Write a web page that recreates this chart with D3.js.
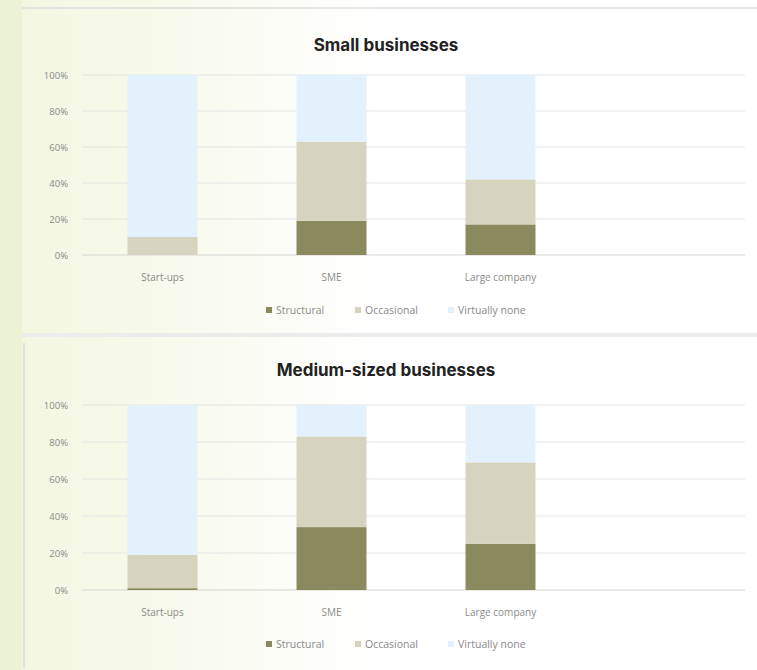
<!DOCTYPE html>
<html>
<head>
<meta charset="utf-8">
<script src="https://cdn.jsdelivr.net/npm/d3@7"></script>
<style>
  html, body { margin: 0; padding: 0; background: #ffffff; }
  svg { display: block; }
</style>
</head>
<body>
<svg id="chart" width="757" height="670"></svg>
<script>
// Company types along the x axis (the fourth slot is an unused, unlabeled category)
const categories = ["Start-ups", "SME", "Large company", ""];
const seriesNames = ["Structural", "Occasional", "Virtually none"];
const yTicks = [0, 0.2, 0.4, 0.6, 0.8, 1.0];

// Shares per company type, small businesses
const smallStructural = [0.00, 0.19, 0.17];
const smallOccasional = [0.10, 0.44, 0.25];
const smallNone       = [0.90, 0.37, 0.58];

// Shares per company type, medium-sized businesses
const mediumStructural = [0.01, 0.34, 0.25];
const mediumOccasional = [0.18, 0.49, 0.44];
const mediumNone       = [0.81, 0.17, 0.31];

const colors = ["#8b8a5e", "#d6d4bf", "#e2f1fc"];

const svg = d3.select("#chart");

// Page background: soft green wash fading to white
const defs = svg.append("defs");
const grad = defs.append("linearGradient").attr("id", "wash")
  .attr("x1", "0%").attr("x2", "100%").attr("y1", "0%").attr("y2", "0%");
grad.append("stop").attr("offset", "0%").attr("stop-color", "#f2f6de");
grad.append("stop").attr("offset", "50%").attr("stop-color", "#ffffff");
grad.append("stop").attr("offset", "100%").attr("stop-color", "#ffffff");

svg.append("rect").attr("width", 757).attr("height", 670).attr("fill", "url(#wash)");
svg.append("rect").attr("x", 0).attr("y", 0).attr("width", 22).attr("height", 670).attr("fill", "#ecf2d4");

// Panel frames
svg.append("line").attr("x1", 22).attr("x2", 757).attr("y1", 8).attr("y2", 8)
  .attr("stroke", "#dcdcdc").attr("stroke-width", 1.5);
svg.append("rect").attr("x", 22).attr("y", 333).attr("width", 735).attr("height", 4).attr("fill", "#ececec");
svg.append("line").attr("x1", 24).attr("x2", 24).attr("y1", 343).attr("y2", 668)
  .attr("stroke", "#dadada").attr("stroke-width", 1.5);

function drawPanel(opts) {
  const { title, titleY, yTop, yBottom, structural, occasional, none, labelY, legendY } = opts;
  const g = svg.append("g");

  const x = d3.scaleBand().domain(categories).range([78, 754]).paddingInner(0.586).paddingOuter(0.293);
  const y = d3.scaleLinear().domain([0, 1]).range([yBottom, yTop]);

  g.append("text").attr("x", 386).attr("y", titleY)
    .attr("text-anchor", "middle")
    .attr("font-family", "Inter, Roboto, sans-serif").attr("font-weight", 700)
    .attr("font-size", 17).attr("fill", "#222")
    .text(title);

  // Y tick labels
  const yAxis = d3.axisLeft(y).tickValues(yTicks).tickFormat(d3.format(".0%")).tickSize(0).tickPadding(0);
  const ax = g.append("g").attr("transform", "translate(68,0)").call(yAxis);
  ax.select(".domain").remove();
  ax.selectAll("text").attr("font-family", "'Open Sans', sans-serif").attr("font-size", 9.5).attr("fill", "#8a8a8a");

  // Gridlines
  g.append("g").selectAll("line").data(yTicks).join("line")
    .attr("x1", 82).attr("x2", 745)
    .attr("y1", d => y(d)).attr("y2", d => y(d))
    .attr("stroke", d => d === 0 ? "#d4d4d4" : "#e4e4e4").attr("stroke-width", 1);

  // Stacked bars
  const rows = categories.slice(0, 3).map((c, i) => ({
    cat: c, Structural: structural[i], Occasional: occasional[i], "Virtually none": none[i]
  }));
  const stacked = d3.stack().keys(seriesNames)(rows);
  g.append("g").selectAll("g").data(stacked).join("g")
    .attr("fill", (d, i) => colors[i])
    .selectAll("rect").data(d => d).join("rect")
    .attr("x", d => x(d.data.cat))
    .attr("width", x.bandwidth())
    .attr("y", d => y(d[1]))
    .attr("height", d => Math.max(0, y(d[0]) - y(d[1])));

  // Category labels
  const xAxis = d3.axisBottom(x).tickSize(0).tickPadding(0);
  const xa = g.append("g").attr("transform", `translate(0,${labelY})`).call(xAxis);
  xa.select(".domain").remove();
  xa.selectAll("text").attr("font-family", "'Open Sans', sans-serif").attr("font-size", 10).attr("fill", "#8a8a8a");

  // Legend
  const legendX = [266, 355, 448];
  const lg = g.append("g").selectAll("g").data(seriesNames).join("g")
    .attr("transform", (d, i) => `translate(${legendX[i]},${legendY})`);
  lg.append("rect").attr("x", 0).attr("y", -7).attr("width", 6).attr("height", 6)
    .attr("fill", (d, i) => colors[i]);
  lg.append("text").attr("x", 10).attr("y", 0)
    .attr("font-family", "'Open Sans', sans-serif").attr("font-size", 10.5).attr("fill", "#8a8a8a")
    .text(d => d);
}

drawPanel({
  title: "Small businesses", titleY: 51, yTop: 75, yBottom: 255,
  structural: smallStructural, occasional: smallOccasional, none: smallNone,
  labelY: 274, legendY: 314
});

drawPanel({
  title: "Medium-sized businesses", titleY: 376, yTop: 405, yBottom: 590,
  structural: mediumStructural, occasional: mediumOccasional, none: mediumNone,
  labelY: 609, legendY: 648
});
</script>
</body>
</html>
